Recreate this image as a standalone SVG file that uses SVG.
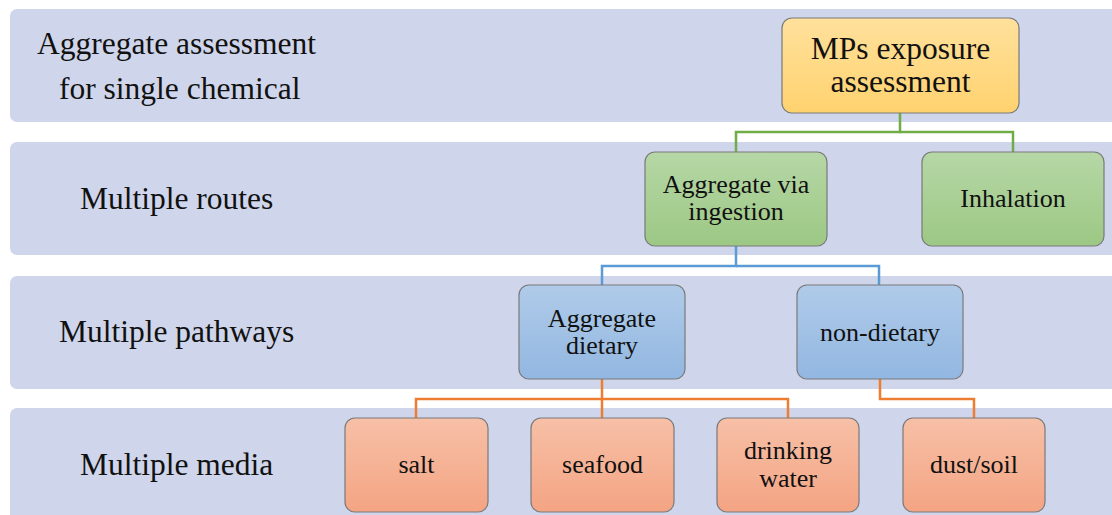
<svg xmlns="http://www.w3.org/2000/svg" width="1112" height="515" viewBox="0 0 1112 515">
  <defs>
    <linearGradient id="gYellow" x1="0" y1="0" x2="0" y2="1">
      <stop offset="0" stop-color="#ffe19c"/>
      <stop offset="1" stop-color="#ffd26f"/>
    </linearGradient>
    <linearGradient id="gGreen" x1="0" y1="0" x2="0" y2="1">
      <stop offset="0" stop-color="#b6d7a6"/>
      <stop offset="1" stop-color="#9cc884"/>
    </linearGradient>
    <linearGradient id="gBlue" x1="0" y1="0" x2="0" y2="1">
      <stop offset="0" stop-color="#b0cbe9"/>
      <stop offset="1" stop-color="#92b7e1"/>
    </linearGradient>
    <linearGradient id="gOrange" x1="0" y1="0" x2="0" y2="1">
      <stop offset="0" stop-color="#f7c0a7"/>
      <stop offset="1" stop-color="#f4a483"/>
    </linearGradient>
  </defs>
  <style>
    .band { fill: #cfd5ea; }
    .box { stroke: #7a7a7a; stroke-width: 1.2; }
    text { font-family: 'Liberation Serif', 'Times New Roman', Times, 'DejaVu Serif', serif; fill: #111; }
    .lbl { font-size: 31.5px; }
    .txt { font-size: 26px; text-anchor: middle; }
    .big { font-size: 31.5px; }
    .conn { fill: none; stroke-width: 2.5; }
  </style>

  <rect width="1112" height="515" fill="#ffffff"/>

  <!-- level bands -->
  <g id="bands">
    <rect class="band" x="10" y="9" width="1120" height="113" rx="7"/>
    <rect class="band" x="10" y="142" width="1120" height="113" rx="7"/>
    <rect class="band" x="10" y="276" width="1120" height="113" rx="7"/>
    <rect class="band" x="10" y="408" width="1120" height="120" rx="7"/>
  </g>

  <!-- level labels -->
  <g id="labels">
    <text class="lbl" x="37" y="54">Aggregate assessment</text>
    <text class="lbl" x="59" y="99">for single chemical</text>
    <text class="lbl" x="80" y="209">Multiple routes</text>
    <text class="lbl" x="59" y="342">Multiple pathways</text>
    <text class="lbl" x="80" y="475">Multiple media</text>
  </g>

  <!-- connectors -->
  <g id="connectors">
    <polyline class="conn" stroke="#70ad47" points="900,113 900,132 736,132 736,152"/>
    <polyline class="conn" stroke="#70ad47" points="900,132 1013,132 1013,152"/>
    <polyline class="conn" stroke="#5b9bd5" points="736,246 736,266 602,266 602,285"/>
    <polyline class="conn" stroke="#5b9bd5" points="736,266 879,266 879,285"/>
    <polyline class="conn" stroke="#ed7d31" points="602,379 602,418"/>
    <polyline class="conn" stroke="#ed7d31" points="416,418 416,399 788,399 788,418"/>
    <polyline class="conn" stroke="#ed7d31" points="880,379 880,399 974,399 974,418"/>
  </g>

  <g id="node-mps">
    <rect class="box" x="782" y="18" width="237" height="95" rx="10" fill="url(#gYellow)"/>
    <text class="txt big" x="900.5" y="59">MPs exposure</text>
    <text class="txt big" x="900.5" y="92">assessment</text>
  </g>
  <g id="node-ingestion">
    <rect class="box" x="645" y="152" width="182" height="94" rx="10" fill="url(#gGreen)"/>
    <text class="txt" x="736" y="193">Aggregate via</text>
    <text class="txt" x="736" y="220">ingestion</text>
  </g>
  <g id="node-inhalation">
    <rect class="box" x="922" y="152" width="182" height="94" rx="10" fill="url(#gGreen)"/>
    <text class="txt" x="1013" y="207">Inhalation</text>
  </g>
  <g id="node-dietary">
    <rect class="box" x="519" y="285" width="166" height="94" rx="10" fill="url(#gBlue)"/>
    <text class="txt" x="602" y="327">Aggregate</text>
    <text class="txt" x="602" y="354">dietary</text>
  </g>
  <g id="node-nondietary">
    <rect class="box" x="797" y="285" width="166" height="94" rx="10" fill="url(#gBlue)"/>
    <text class="txt" x="880" y="341">non-dietary</text>
  </g>
  <g id="node-salt">
    <rect class="box" x="345" y="418" width="143" height="94" rx="10" fill="url(#gOrange)"/>
    <text class="txt" x="416.5" y="473">salt</text>
  </g>
  <g id="node-seafood">
    <rect class="box" x="531" y="418" width="143" height="94" rx="10" fill="url(#gOrange)"/>
    <text class="txt" x="602.5" y="473">seafood</text>
  </g>
  <g id="node-water">
    <rect class="box" x="717" y="418" width="142" height="94" rx="10" fill="url(#gOrange)"/>
    <text class="txt" x="788" y="459">drinking</text>
    <text class="txt" x="788" y="487">water</text>
  </g>
  <g id="node-dust">
    <rect class="box" x="903" y="418" width="142" height="94" rx="10" fill="url(#gOrange)"/>
    <text class="txt" x="974" y="473">dust/soil</text>
  </g>
</svg>
